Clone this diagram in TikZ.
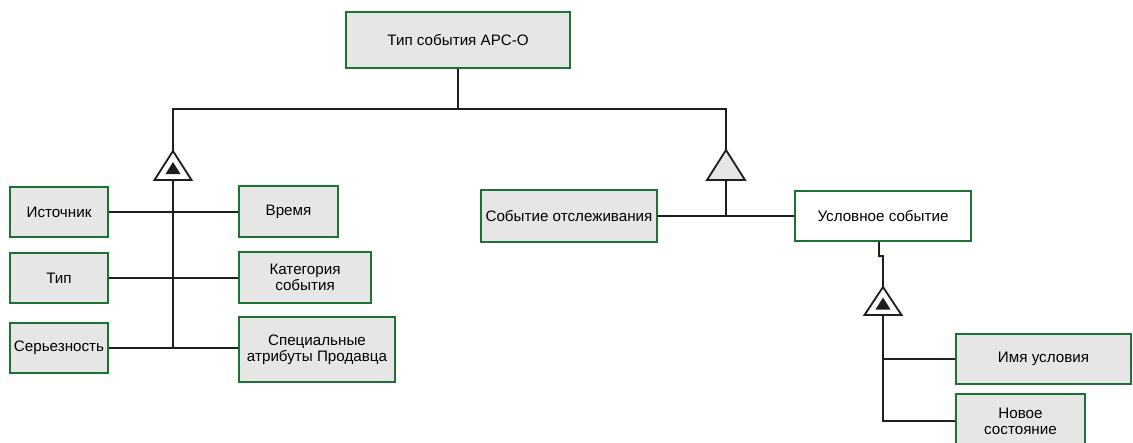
\documentclass[tikz,border=0pt]{standalone}
\usepackage{fontspec}
\setmainfont{Liberation Sans}
\definecolor{ramka}{RGB}{30,112,52}
\definecolor{fon}{RGB}{230,230,230}
\definecolor{liniya}{RGB}{30,30,30}
\begin{document}
\begin{tikzpicture}[x=0.025cm,y=-0.025cm,
        blok/.style={draw=ramka,line width=1.6pt,fill=fon,align=center,inner sep=0pt,
            font=\fontsize{10.8}{11.6}\selectfont},
        razm/.style 2 args={minimum width=#1*0.025cm,minimum height=#2*0.025cm},
        svyaz/.style={draw=liniya,line width=1.3pt}]
            \useasboundingbox (0,0) rectangle (1133,442);
            \node[blok,razm={224}{56}] at (458,40) (tip) {Тип события АРС-О};
            \node[blok,razm={98}{50}] at (59,212) (istochnik) {Источник};
            \node[blok,razm={99}{51}] at (288.5,211.5) (vremya) {Время};
            \node[blok,razm={98}{50}] at (59,278) (tipsob) {Тип};
            \node[blok,razm={132}{51}] at (305,277.5) (kategoriya) {Категория\\события};
            \node[blok,razm={98}{50}] at (59,348) (serez) {Серьезность};
            \node[blok,razm={156}{65}] at (317,349.5) (spec) {Специальные\\атрибуты Продавца};
            \node[blok,razm={176}{52}] at (569,216) (otsl) {Событие отслеживания};
            \node[blok,razm={176}{50},fill=white] at (883,216) (uslov) {Условное событие};
            \node[blok,razm={175}{50}] at (1043.5,359) (imya) {Имя условия};
            \node[blok,razm={129}{54}] at (1020.5,421) (novoe) {Новое\\состояние};
            % vershiny i osnovaniya treugolnikov
            \coordinate (v1) at (173,109);
            \coordinate (v2) at (726,109);
            \coordinate (t1) at (173,151);
            \coordinate (t1b) at (173,180);
            \coordinate (t2) at (726,150);
            \coordinate (t2b) at (726,180);
            \coordinate (t3) at (883,287);
            \coordinate (t3b) at (883,315);
            \draw[svyaz,fill=white] (t1) -- ++(18.5,29) -- ++(-37,0) -- cycle;
            \fill[liniya] (173,162) -- ++(7.5,12) -- ++(-15,0) -- cycle;
            \draw[svyaz,fill=fon] (t2) -- ++(19,30) -- ++(-38,0) -- cycle;
            \draw[svyaz,fill=white] (t3) -- ++(18.5,28) -- ++(-37,0) -- cycle;
            \fill[liniya] (883,297.5) -- ++(7.5,12) -- ++(-15,0) -- cycle;
            \draw[svyaz] (tip.south) -- (tip.south |- v1);
            \draw[svyaz] (t1) -- (v1) -- (v2) -- (t2);
            \draw[svyaz] (t1b) -- (t1b |- serez.east);
            \draw[svyaz] (istochnik.east) -- (istochnik.east -| vremya.west);
            \draw[svyaz] (tipsob.east) -- (tipsob.east -| kategoriya.west);
            \draw[svyaz] (serez.east) -- (serez.east -| spec.west);
            \draw[svyaz] (t2b) -- (t2b |- otsl.east);
            \draw[svyaz] (otsl.east) -- (uslov.west);
            \draw[svyaz] ([xshift=-0.1cm]uslov.south) -- ++(0,14) -- ++(4,0) -- (t3);
            \draw[svyaz] (t3b) -- (t3b |- novoe.west) -- (novoe.west);
            \draw[svyaz] (t3b |- imya.west) -- (imya.west);
        \end{tikzpicture}
\end{document}
